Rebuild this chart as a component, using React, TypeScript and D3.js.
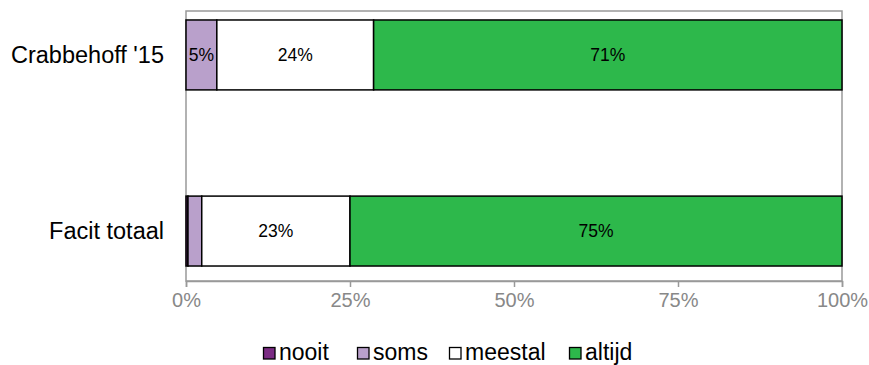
import * as d3 from 'd3'
import { useEffect, useRef } from 'react'

const categories = ["Crabbehoff '15", 'Facit totaal']
const keys = ['nooit', 'soms', 'meestal', 'altijd']
const nooit = [0, 0.3]
const soms = [4.7, 2.1]
const meestal = [23.9, 22.6]
const altijd = [71.4, 75.0]
const labels = [
  ['', '5%', '24%', '71%'],
  ['', '', '23%', '75%'],
]
const ticks = [0, 25, 50, 75, 100]
const colors = ['#7B2C83', '#B9A0CB', '#FFFFFF', '#2DB84B']

export default function App() {
  const ref = useRef<HTMLDivElement | null>(null)

  useEffect(() => {
    const width = 869
    const height = 365
    const left = 186
    const right = 842
    const top = 11
    const bottom = 281

    const rows = categories.map((c, i) => ({
      cat: c,
      nooit: nooit[i],
      soms: soms[i],
      meestal: meestal[i],
      altijd: altijd[i],
    }))
    const series = d3.stack<any>().keys(keys)(rows)

    const x = d3.scaleLinear().domain([0, 100]).range([left, right])
    const y = d3
      .scaleBand()
      .domain(categories)
      .range([top, 275])
      .paddingInner(0.603)
      .paddingOuter(0.051)

    const svg = d3
      .create('svg')
      .attr('width', width)
      .attr('height', height)
      .style('display', 'block')
      .style('font-family', 'Liberation Sans, Arial, sans-serif')

    // frame
    svg
      .append('rect')
      .attr('x', left)
      .attr('y', top)
      .attr('width', right - left)
      .attr('height', bottom - top)
      .attr('fill', 'none')
      .attr('stroke', '#999')
      .attr('stroke-width', 1.5)

    // bars
    series.forEach((s, k) => {
      svg
        .append('g')
        .selectAll('rect')
        .data(s)
        .join('rect')
        .attr('x', (d) => x(d[0]))
        .attr('y', (d) => y(d.data.cat)!)
        .attr('width', (d) => x(d[1]) - x(d[0]))
        .attr('height', y.bandwidth())
        .attr('fill', colors[k])
        .attr('stroke', '#000')
        .attr('stroke-width', 1.5)
    })

    series.forEach((s, k) => {
      svg
        .append('g')
        .selectAll('text')
        .data(s)
        .join('text')
        .attr('x', (d) => (x(d[0]) + x(d[1])) / 2)
        .attr('y', (d) => y(d.data.cat)! + y.bandwidth() / 2)
        .attr('dy', '0.35em')
        .attr('text-anchor', 'middle')
        .attr('font-size', 17.5)
        .attr('fill', '#000')
        .text((_, i) => labels[i][k])
    })

    // category labels
    svg
      .append('g')
      .selectAll('text')
      .data(categories)
      .join('text')
      .attr('x', 164)
      .attr('y', (d) => y(d)! + y.bandwidth() / 2)
      .attr('dy', '0.35em')
      .attr('text-anchor', 'end')
      .attr('font-size', 23.5)
      .attr('fill', '#000')
      .text((d) => d)

    // x axis
    const ax = svg.append('g').attr('transform', `translate(0,${bottom})`)
    ax.call(
      d3
        .axisBottom(x)
        .tickValues(ticks)
        .tickSize(6)
        .tickPadding(6)
        .tickFormat((d) => `${d}%`)
    )
    ax.select('.domain').attr('stroke', '#999').attr('stroke-width', 1.5)
    ax.selectAll('.tick line').attr('stroke', '#999').attr('stroke-width', 1.5)
    ax.selectAll('.tick text')
      .attr('fill', '#888')
      .attr('font-size', 20)
      .attr('font-family', 'Liberation Sans, Arial, sans-serif')

    // legend
    const legX = [263, 357, 449, 569]
    const lg = svg.append('g')
    keys.forEach((k, i) => {
      const g = lg.append('g').attr('transform', `translate(${legX[i]},347)`)
      g.append('rect')
        .attr('x', 0.5)
        .attr('y', 0.5)
        .attr('width', 11.5)
        .attr('height', 11.5)
        .attr('fill', colors[i])
        .attr('stroke', '#000')
        .attr('stroke-width', 1.3)
      g.append('text')
        .attr('x', 16)
        .attr('y', 12.5)
        .attr('font-size', 23)
        .attr('fill', '#000')
        .text(k)
    })

    if (ref.current) {
      ref.current.innerHTML = ''
      ref.current.appendChild(svg.node()!)
    }
  }, [])

  return <div ref={ref} style={{ position: 'absolute', left: 0, top: 0 }} />
}
